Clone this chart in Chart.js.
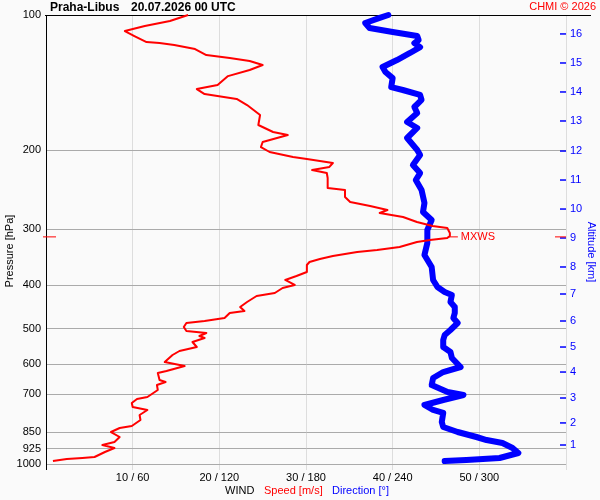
<!DOCTYPE html>
<html>
<head>
<meta charset="utf-8">
<script src="https://cdn.jsdelivr.net/npm/chart.js@4.4.1/dist/chart.umd.min.js"></script>
<style>
  html, body { margin: 0; padding: 0; background: #fafafa; }
  #wrap { width: 600px; height: 500px; }
</style>
</head>
<body>
<div id="wrap"><canvas id="c" width="600" height="500"></canvas></div>
<script>
// ---- data ----
const speedPressure = [100,103.1,105.8,108.6,111.4,114.9,115.5,116.6,119.1,122.8,
  124.7,126.6,129.2,132.6,136.8,143.2,146.2,150.0,153.8,158.7,
  167.0,175.8,182.2,185.0,191.8,196.8,201.9,207.1,209.3,213.6,
  218.0,221.4,224.9,230.7,242.8,245.3,254.3,260.9,266.3,271.8,
  276.0,281.8,289.1,295.1,298.1,305.8,310.6,313.8,317.0,320.3,
  328.6,333.7,337.1,344.1,349.5,354.9,360.4,373.5,381.3,389.2,
  399.3,405.5,416.0,422.5,435.7,447.0,456.3,461.0,473.0,480.3,
  485.3,495.3,505.6,510.8,518.7,524.1,534.9,548.8,560.2,571.8,
  592.7,605.0,620.7,627.1,650.0,656.7,666.9,684.2,709.2,716.5,
  731.4,746.5,758.1,777.8,798.0,823.0,831.4,848.7,870.7,893.3,
  907.2,921.3,940.3,964.8,969.7,974.7,984.7];
const speedValues = [16.4,14.3,11.4,9.1,10.2,11.6,13.1,14.8,17.2,18.5,
  21.2,23.5,25.0,23.5,21.0,19.8,17.4,18.3,22.0,23.2,
  24.7,24.5,26.2,27.9,25.0,24.8,25.8,28.5,30.1,33.1,
  32.7,30.7,32.4,32.5,32.5,34.5,34.5,35.1,37.4,39.4,
  38.5,41.2,42.8,44.6,46.3,46.6,46.6,46.3,44.3,42.8,
  40.8,38.2,35.9,33.1,31.6,30.4,30.1,30.1,28.9,27.6,
  28.7,27.3,26.4,24.3,23.2,22.4,22.9,21.2,20.6,18.3,
  16.2,15.9,16.2,18.5,17.7,18.3,16.9,17.4,15.4,14.6,
  13.7,16.0,13.9,12.9,13.1,13.8,12.8,12.9,11.7,10.5,
  9.9,10.0,11.7,10.8,10.9,9.9,8.5,7.5,8.5,7.9,
  6.5,7.9,6.8,5.6,4.2,2.4,0.8];

const dirPressure = [100,101.5,104.2,106.9,109.1,111.4,113.7,115.5,117.9,121.5,
  126.0,130.6,134.0,138.2,144.7,146.9,150.7,154.6,160.3,165.3,
  173.1,178.5,187.9,199.8,205.0,215.8,224.9,233.1,245.3,262.2,
  274.6,286.1,301.2,321.9,342.4,364.1,389.2,403.4,413.9,420.3,
  435.7,447.0,461.0,473.0,485.3,503.0,516.1,529.5,548.8,563.1,
  580.7,608.1,624.0,643.4,666.9,691.3,702.0,720.2,738.9,758.1,
  769.8,806.2,827.2,848.7,870.7,884.2,897.9,921.3,945.2,969.7,
  979.7,984.7];
const dirValues = [237,231,221,224,240,257,258,255,259,252,
  243,233,235,240,239,247,259,260,255,257,
  250,257,250,257,259,254,259,256,260,262,
  261,267,264,264,262,267,268,271,276,281,
  280,283,283,282,285,280,276,275,275,280,
  281,287,275,268,267,278,289,275,262,268,
  275,274,275,285,298,305,316,323,327,314,
  291,276];

const pressureTicks = [100,200,300,400,500,600,700,850,925,1000];
const speedTicks = [10,20,30,40,50];
const dirTicks = [60,120,180,240,300];
const altLabels = ['16','15','14','13','12','11','10','9','8','7','6','5','4','3','2','1'];
const altPressures = [110.2,127.9,148.4,172.2,200.9,233.1,270.5,313.8,364.1,418.2,480.3,548.9,624.0,712.9,810.1,907.2];

const mxwsSpeed = 46.6;
const mxwsPressure = 312;

// ---- drawing ----
const FONT = '"Liberation Sans", Arial, sans-serif';
const RED = '#ff0000', BLUE = '#0000ff';

const decor = {
  id: 'decor',
  beforeDraw(chart) {
    const c = chart.ctx;
    c.save();
    c.fillStyle = '#fafafa';
    c.fillRect(0, 0, chart.width, chart.height);
    c.restore();
  },
  beforeDatasetsDraw(chart) {
    const c = chart.ctx, a = chart.chartArea;
    c.save();
    c.fillStyle = '#000';
    c.fillRect(45, Math.round(a.top), 546, 1);
    c.fillRect(Math.round(a.left), Math.round(a.bottom), 1, 6);
    // inward altitude ticks
    const y2 = chart.scales.y2;
    c.fillStyle = BLUE;
    altPressures.forEach(p => {
      const py = y2.getPixelForValue(p);
      c.fillRect(a.right - 6, py - 0.75, 6, 1.5);
    });
    c.restore();
  },
  afterDatasetsDraw(chart) {
    const c = chart.ctx, a = chart.chartArea;
    const px = chart.scales.x.getPixelForValue(mxwsSpeed);
    const py = chart.scales.y.getPixelForValue(mxwsPressure);
    c.save();
    c.strokeStyle = RED; c.lineWidth = 1;
    c.beginPath();
    c.moveTo(px - 2, py); c.lineTo(px + 8, py);
    c.moveTo(a.left - 3, py); c.lineTo(a.left + 10, py);
    c.moveTo(a.right - 11, py); c.lineTo(a.right, py);
    c.stroke();
    c.fillStyle = RED;
    c.font = '11px ' + FONT;
    c.textBaseline = 'middle';
    c.textAlign = 'left';
    c.fillText('MXWS', px + 11, py);
    c.restore();
  },
  afterDraw(chart) {
    const c = chart.ctx;
    c.save();
    c.textBaseline = 'middle';
    c.textAlign = 'left';
    c.fillStyle = '#000';
    c.font = 'bold 12px ' + FONT;
    c.fillText('Praha-Libus', 50, 8);
    c.fillText('20.07.2026 00 UTC', 131, 8);
    c.fillStyle = RED;
    c.font = '11px ' + FONT;
    c.textAlign = 'right';
    c.fillText('CHMI \u00a9 2026', 596, 7);
    c.textAlign = 'left';
    c.fillStyle = '#000';
    c.fillText('WIND', 225, 491);
    c.fillStyle = RED;
    c.fillText('Speed [m/s]', 264, 491);
    c.fillStyle = BLUE;
    c.fillText('Direction [\u00b0]', 332, 491);
    // axis titles
    c.textAlign = 'center';
    c.fillStyle = '#000';
    c.save();
    c.translate(10, 251);
    c.rotate(-Math.PI / 2);
    c.fillText('Pressure [hPa]', 0, 0);
    c.restore();
    c.fillStyle = BLUE;
    c.save();
    c.translate(591, 252);
    c.rotate(Math.PI / 2);
    c.fillText('Altitude [km]', 0, 0);
    c.restore();
    c.restore();
  }
};

new Chart(document.getElementById('c'), {
  type: 'scatter',
  data: {
    datasets: [
      {
        label: 'Speed [m/s]',
        data: speedPressure.map((p, i) => ({ x: speedValues[i], y: p })),
        xAxisID: 'x', yAxisID: 'y',
        showLine: true, borderColor: RED, backgroundColor: RED,
        borderWidth: 2, pointRadius: 0, tension: 0, clip: false,
        borderJoinStyle: 'round'
      },
      {
        label: 'Direction [°]',
        data: dirPressure.map((p, i) => ({ x: dirValues[i], y: p })),
        xAxisID: 'x2', yAxisID: 'y',
        showLine: true, borderColor: BLUE, backgroundColor: BLUE,
        borderWidth: 6, pointRadius: 0, tension: 0, clip: false,
        borderJoinStyle: 'round', borderCapStyle: 'round'
      }
    ]
  },
  options: {
    responsive: false,
    animation: false,
    devicePixelRatio: 1,
    layout: { padding: { top: 15, left: 0, right: 0, bottom: 0 } },
    plugins: { legend: { display: false }, tooltip: { enabled: false } },
    scales: {
      x: {
        type: 'linear', position: 'bottom', min: 0, max: 60,
        ticks: {
          stepSize: 10, color: '#000', padding: 1.5,
          font: { size: 11, family: FONT },
          maxRotation: 0, autoSkip: false,
          callback: v => {
            const i = speedTicks.indexOf(v);
            return i >= 0 ? speedTicks[i] + ' / ' + dirTicks[i] : '';
          }
        },
        grid: { color: '#dddddd', tickLength: 6 },
        border: { color: '#aaaaaa' },
        afterFit: s => { s.height = 36; }
      },
      x2: { type: 'linear', min: 0, max: 360, display: false },
      y: {
        type: 'logarithmic', position: 'left', min: 100, max: 1000, reverse: true,
        afterBuildTicks: s => { s.ticks = pressureTicks.map(v => ({ value: v })); },
        ticks: {
          color: '#000', padding: 5, font: { size: 11, family: FONT },
          autoSkip: false, callback: v => String(v)
        },
        grid: { color: '#aaaaaa', drawTicks: false },
        border: { color: '#000000' },
        afterFit: s => { s.width = 46; }
      },
      y2: {
        type: 'logarithmic', position: 'right', min: 100, max: 1000, reverse: true,
        afterBuildTicks: s => { s.ticks = altPressures.map(v => ({ value: v })); },
        ticks: {
          color: BLUE, padding: 4, font: { size: 11, family: FONT },
          autoSkip: false, callback: (v, i) => altLabels[i]
        },
        grid: { drawOnChartArea: false, drawTicks: false },
        border: { color: '#dddddd' },
        afterFit: s => { s.width = 34; }
      }
    }
  },
  plugins: [decor]
});
</script>
</body>
</html>
